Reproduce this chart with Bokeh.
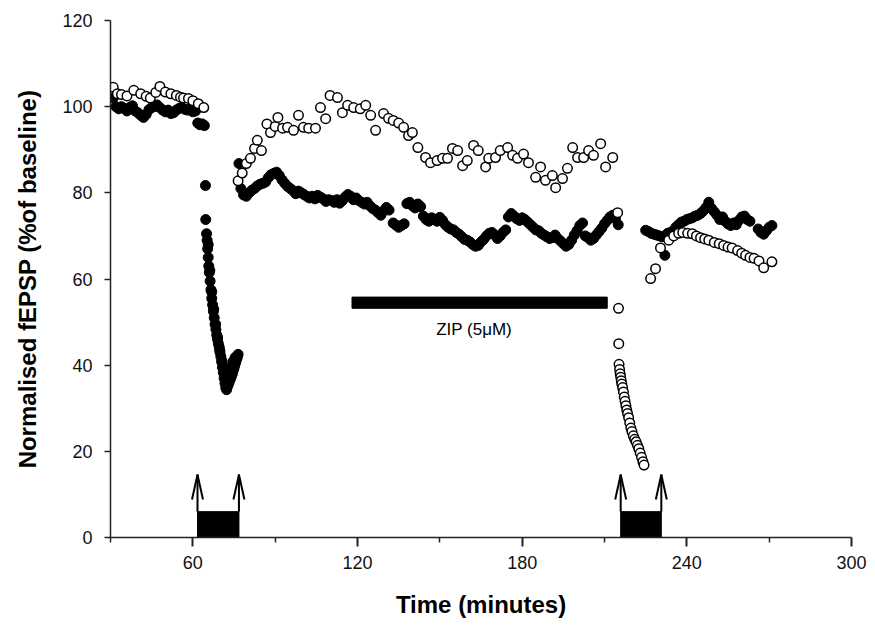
from bokeh.plotting import figure
from bokeh.models import Range1d, FixedTicker
from bokeh.core.properties import value
from bokeh.embed import file_html
from bokeh.resources import INLINE

# ---------------- data ----------------
# Closed circles (filled series)
filled_t = [31, 32, 33, 34, 35, 36, 37, 38, 39, 40, 41, 42, 43, 44, 45, 46, 47, 48, 49, 50,
            51, 52, 53, 54, 55, 56, 57, 58, 59, 60, 61,
            61.8, 62.6, 63.4, 64.2,
            64.6, 64.7, 65.0, 65.2, 65.4, 65.6, 65.8, 66.0, 66.3, 66.6, 66.9, 67.2, 67.5, 67.8,
            68.1, 68.4, 68.7, 69.0, 69.3, 69.6, 69.9, 70.2, 70.5, 70.8, 71.1, 71.4, 71.7, 72.0,
            72.3, 72.6, 72.9, 73.2, 73.5, 73.8, 74.1, 74.4, 74.7, 75.0, 75.3, 75.6, 75.9, 76.2, 76.5,
            76.8, 77.5, 78.5, 79.5, 80.5, 81.5, 82.5, 83.5, 84.5, 85.5, 86.5, 87.5, 88.5, 89.5,
            90.5, 91.5, 92.5, 93.5, 94.5, 95.5, 96.5, 97.5, 98.5, 99.5, 100.5, 101.5, 102.5,
            103.5, 104.5, 105.5, 106.5, 107.5, 108.5, 109.5, 110.5, 111.5, 112.5, 113.5, 114.5,
            115.5, 116.5, 117.5, 118.5, 119.5, 120.5, 121.5, 122.5, 123.5, 124.5, 125.5, 126.5,
            127.5, 128.5, 129.5, 130.5, 131.5,
            133, 134, 135, 136, 137, 138, 139, 140, 141, 142, 143, 144, 145, 146, 147, 148, 149,
            150, 151, 152, 153, 154, 155, 156, 157, 158, 159, 160, 161, 162, 163, 164, 165, 166,
            167, 168, 169, 170, 171, 172, 173, 174, 175, 176, 177, 178, 179, 180, 181, 182, 183,
            184, 185, 186, 187, 188, 189, 190, 191, 192, 193, 194, 195, 196, 197, 198, 199, 200,
            201, 202, 203, 204, 205, 206, 207, 208, 209, 210, 211, 212, 213, 214, 215,
            225, 226, 227, 228, 229, 230, 231, 232, 233, 234, 235, 236, 237, 238, 239, 240, 241,
            242, 243, 244, 245, 246, 247, 248, 249, 250, 251, 252, 253, 254, 255, 256, 257, 258,
            259, 260, 261, 262, 263, 266, 267, 268, 269, 270, 271]
filled_v = [102, 100, 99.5, 100, 99.6, 99, 99.8, 100.2, 99, 98.6, 98, 97.5, 98.2, 99.3, 99.8,
            100, 100.4, 99.8, 99.2, 98.8, 99.2, 98.4, 98.6, 99.2, 99.6, 99.8, 99.4, 99.2, 99.5,
            98.8, 99,
            96.2, 95.8, 96, 95.6,
            81.7, 73.8, 70.5, 69, 67, 65, 63, 61.5, 59.5, 57.5, 55.5, 54, 52.5, 51,
            49.5, 48.3, 47, 46, 45, 44.2, 43, 42, 40.8, 39.5, 38.3, 37, 35.8, 34.8,
            34.3, 35, 35.5, 36, 36.5, 37, 37.5, 38, 38.8, 39.3, 40, 40.6, 41.3, 41.8, 42.5,
            86.8, 81, 79.5, 79.2, 80, 80.6, 81, 81.6, 82, 82.2, 82.5, 83.5, 84.2, 84.5,
            84.8, 84, 83, 82.2, 81.5, 81, 80.5, 79.8, 80.4, 80, 79.6, 79.2, 78.8,
            79.2, 78.6, 79.4, 79, 78.6, 78, 78.4, 78.2, 77.8, 78.4, 77.6, 78.2,
            79, 79.6, 79.2, 78.4, 78.8, 78.2, 77.8, 77.4, 77.8, 77, 76.4, 76,
            75.4, 74.8, 75.8, 76.6, 76,
            73, 72.5, 72, 72.4, 72.8, 77.5, 77.8, 77, 76.5, 77.4, 76.8, 74.6, 73.8, 73.4, 74.2,
            73.8, 73.4, 74.3, 73.6, 72.6, 72, 71.6, 71.4, 70.8, 70.4, 69.8, 69.2, 69, 68.6, 68,
            67.6, 67.8, 68.6, 69.2, 70, 70.6, 70.8, 70.2, 69.4, 70, 70.8, 71.4, 74.4, 75.2, 74.6,
            74, 73.6, 74.2, 73.8, 73.2, 72.6, 72, 71.4, 71.2, 70.6, 70.2, 69.8, 69.4, 69.6, 70.2,
            69.4, 68.8, 68.2, 67.6, 68, 69, 70.2, 71.2, 72.4, 73, 70, 69.6, 69, 69.4, 70.2, 71,
            71.8, 72.8, 73.6, 74.4, 74.8, 74, 72.6,
            71.3, 71, 70.6, 70.4, 70.2, 70, 69.8, 65.5, 70.6, 70.8, 71.2, 72, 72.6, 73.2, 73.4,
            73.8, 74, 74.2, 74.6, 74.8, 75.2, 75.8, 76.6, 77.8, 76.4, 75.6, 74.8, 73.8, 74.4,
            73.4, 72.8, 72.4, 73, 72.6, 73.6, 74.4, 74.6, 73.8, 73.4, 71.6, 70.8, 70.4, 71.2,
            72, 72.4]

# extra closed points that thicken the first tetanus band
band_t = [65.6, 66.2, 66.9, 67.6, 68.3, 69.0, 69.8, 70.6, 71.4, 72.2, 73.0, 73.8, 74.6, 75.4]
band_v = [68.0, 62.0, 57.0, 53.0, 49.5, 46.5, 43.5, 41.0, 38.5, 36.2, 38.2, 39.6, 40.8, 41.8]

# Open circles
open_t = [31, 32.5, 34, 36, 38.5, 41, 43, 44.5, 46.5, 48, 50, 52, 54, 55.5, 56.6, 58.4, 60,
          62, 64,
          76.5, 78, 79.5, 81, 82.5, 83.5, 85, 87, 88.3, 90, 91, 92.7, 94.5, 96.7, 98.5, 100.3,
          102.2, 104.7, 106.5, 108.4, 110, 112.7, 114.5, 116.4, 118.6, 121, 123, 124.8, 126.6,
          129.5, 131.3, 133, 135, 136.8, 138.6, 140, 142, 144.8, 146.6, 149, 151, 152.8, 154.6,
          156.5, 158.3, 160, 162.3, 164, 166.7, 167.8, 170.3, 172, 174.7, 176.5, 178.3, 180.5,
          182.3, 184.9, 186.7, 188.5, 191, 192.2, 194.7, 196.5, 198.4, 200.2, 202.4, 204.2,
          206, 208.6, 210.4, 213, 214.8,
          215.1, 215.2, 215.3, 215.5, 215.7, 215.9, 216.1, 216.3, 216.6, 216.9, 217.2, 217.5,
          217.8, 218.1, 218.4, 218.8, 219.2, 219.6, 220.0, 220.5, 221.0, 221.5, 222.0, 222.5,
          223.0, 223.5, 224.0, 224.4,
          226.8, 228.6, 230.4, 233.4, 235.2, 237, 238.5, 240.3, 242, 243.5, 245, 246.5, 248,
          250, 251.8, 253.4, 255, 256.5, 258.5, 260, 261.4, 263, 264.5, 266.3, 268, 271]
open_v = [104.5, 103, 102.8, 102.5, 103.8, 103, 102.4, 102, 103.3, 104.7, 103.4, 103, 102.6,
          102.2, 102, 101.9, 101.4, 100.7, 99.8,
          82.8, 84.6, 86.8, 88, 90.3, 92.2, 89.8, 96, 94, 95.4, 97.5, 95, 95.2, 94.5, 98, 95.2,
          95, 95, 99.8, 97.2, 102.6, 102.1, 98.6, 100.3, 99.8, 99.5, 100.3, 98, 94.5,
          98.4, 97.3, 96.8, 96.2, 95.2, 93.3, 94, 90.5, 88.2, 87, 87.5, 88, 88, 90.3,
          89.8, 86.3, 87.5, 91, 89.8, 86, 88, 88.2, 89.8, 90.5, 88.7, 88, 89,
          87, 83.6, 86, 82.9, 84, 81.2, 83.3, 85.7, 90.5, 88.2, 88.2, 89.8,
          88.7, 91.4, 86, 88.2, 75.4,
          53.2, 45, 40.2, 39, 38, 37.2, 36.4, 35.6, 34.8, 33.8, 32.6, 31.6,
          30.6, 29.6, 28.8, 27.8, 26.6, 25.4, 24.6, 23.6, 22.8, 22.2, 21.4, 20.6,
          19.6, 18.6, 17.6, 16.8,
          60.1, 62.4, 67.2, 69, 70, 70.6, 70.8, 70.6, 70.5, 70, 69.6, 69.3, 69,
          68.5, 68.2, 67.8, 67.4, 67.2, 66.6, 66, 65.5, 65, 64.8, 64.2, 62.6, 64]

# Drug application bar and tetanus periods
zip_label = "ZIP (5\u03bcM)"
zip_start, zip_end = 118, 211
zip_bottom, zip_top = 53.2, 55.8
zip_label_x, zip_label_y = 162.5, 48.3
tet_start = [61.7, 215.9]
tet_end = [76.8, 230.7]
tet_height = 6
arrow_tip = 14.6

x_major = [60, 120, 180, 240, 300]
x_minor = [30, 90, 150, 210, 270]
y_major = [0, 20, 40, 60, 80, 100, 120]

# ---------------- figure ----------------
FONT = "Liberation Sans"
p = figure(width=875, height=626, output_backend="svg", toolbar_location=None,
           x_range=Range1d(30, 300), y_range=Range1d(0, 120),
           min_border_left=110, min_border_right=24, min_border_top=20, min_border_bottom=89)
p.outline_line_color = None
p.grid.visible = False
p.background_fill_color = "white"
p.border_fill_color = "white"

# tetanus boxes + arrows
p.quad(left=tet_start, right=tet_end, bottom=[0, 0], top=[tet_height] * 2,
       fill_color="black", line_color="black")
edges = tet_start + tet_end
p.segment(x0=edges, y0=[tet_height] * 4, x1=edges, y1=[arrow_tip] * 4,
          line_color="black", line_width=2)
wing_dx = 2.0
wing_dy = 5.8
p.segment(x0=edges, y0=[arrow_tip] * 4, x1=[e - wing_dx for e in edges],
          y1=[arrow_tip - wing_dy] * 4, line_color="black", line_width=2)
p.segment(x0=edges, y0=[arrow_tip] * 4, x1=[e + wing_dx for e in edges],
          y1=[arrow_tip - wing_dy] * 4, line_color="black", line_width=2)

# ZIP bar
p.quad(left=[zip_start], right=[zip_end], bottom=[zip_bottom], top=[zip_top],
       fill_color="black", line_color="black")
p.text(x=[zip_label_x], y=[zip_label_y], text=[zip_label],
       text_font=value(FONT), text_font_size="17px", text_align="center",
       text_baseline="middle", text_color="black")

# data
p.scatter(filled_t, filled_v, marker="circle", size=10, fill_color="black",
          line_color="black", line_width=1)
p.scatter(band_t, band_v, marker="circle", size=10, fill_color="black",
          line_color="black", line_width=1)
p.scatter(open_t, open_v, marker="circle", size=9.5, fill_color="white",
          line_color="black", line_width=1.5)

# axes
xa = p.xaxis[0]
xa.ticker = FixedTicker(ticks=x_major, minor_ticks=x_minor)
xa.axis_label = "Time (minutes)"
ya = p.yaxis[0]
ya.ticker = FixedTicker(ticks=y_major)
ya.axis_label = "Normalised fEPSP (%of baseline)"

for ax in (xa, ya):
    ax.axis_line_color = "#222222"
    ax.axis_line_width = 1.5
    ax.major_tick_line_color = "#222222"
    ax.minor_tick_line_color = "#222222"
    ax.major_tick_in = 0
    ax.minor_tick_in = 0
    ax.major_label_text_font = FONT
    ax.major_label_text_font_size = "18px"
    ax.major_label_text_color = "#111111"
    ax.axis_label_text_font = FONT
    ax.axis_label_text_font_size = "24px"
    ax.axis_label_text_font_style = "bold"
    ax.axis_label_text_color = "black"

xa.major_tick_out = 9
xa.major_tick_line_width = 2
xa.minor_tick_out = 5
xa.minor_tick_line_width = 1.5
xa.major_label_standoff = 9
xa.axis_label_standoff = 19

ya.major_tick_out = 6
ya.major_tick_line_width = 1.5
ya.minor_tick_out = 0
ya.minor_tick_line_color = None
ya.major_label_standoff = 12
ya.axis_label_standoff = 18

open("out.html", "w").write(file_html(p, INLINE))
